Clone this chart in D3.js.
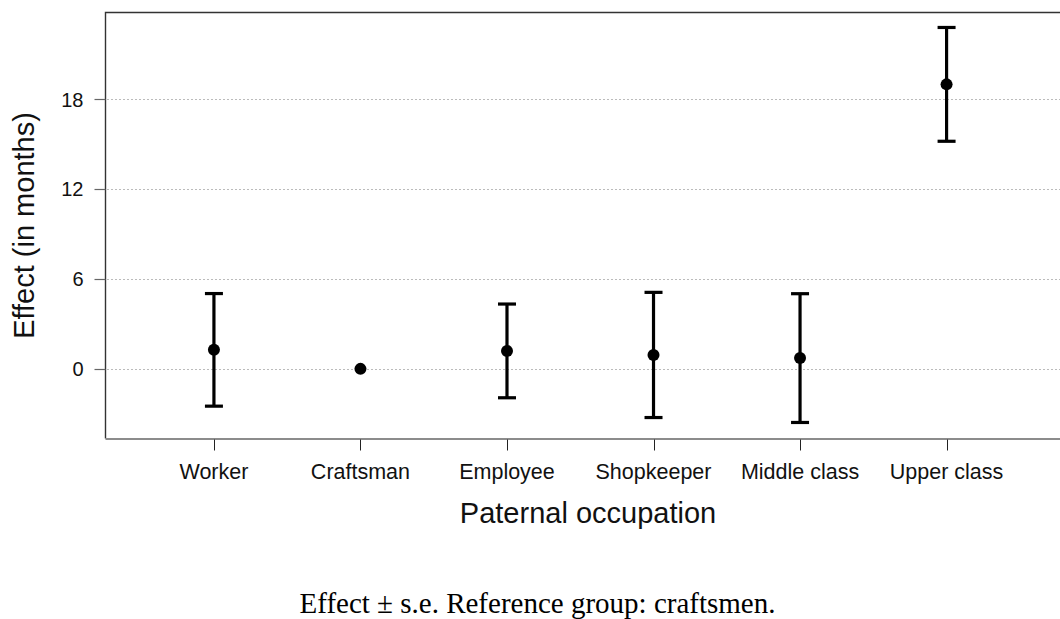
<!DOCTYPE html>
<html>
<head>
<meta charset="utf-8">
<script src="https://cdn.jsdelivr.net/npm/d3@7"></script>
<style>
  body { margin: 0; background: #fff; }
  svg { display: block; }
  .tick-label { font-family: "Liberation Sans", Arial, sans-serif; fill: #111; }
</style>
</head>
<body>
<div id="container"></div>
<script>
// data
const occupations = ["Worker", "Craftsman", "Employee", "Shopkeeper", "Middle class", "Upper class"];
const effects = [1.27, 0, 1.2, 0.93, 0.72, 19.0];
const stdErrors = [3.76, 0, 3.13, 4.18, 4.3, 3.8];
const yTicks = [0, 6, 12, 18];

const width = 1060;
const height = 619;
const plot = { left: 105.5, top: 12.5, right: 1062, bottom: 438.5 };

const svg = d3.select("#container")
  .append("svg")
  .attr("width", width)
  .attr("height", height);

const x = d3.scalePoint()
  .domain(occupations)
  .range([plot.left, 1055])
  .padding(0.74);

const y = d3.scaleLinear()
  .domain([-4.65, 23.8])
  .range([plot.bottom, plot.top]);

// dotted grid lines
svg.append("g")
  .selectAll("line")
  .data(yTicks)
  .join("line")
  .attr("x1", plot.left + 2)
  .attr("x2", plot.right)
  .attr("y1", d => Math.round(y(d)) + 0.5)
  .attr("y2", d => Math.round(y(d)) + 0.5)
  .attr("stroke", "#777")
  .attr("stroke-width", 1)
  .attr("stroke-dasharray", "1,3");

// frame: top and left
svg.append("path")
  .attr("d", `M${plot.left},${plot.bottom}V${plot.top}H${plot.right}`)
  .attr("fill", "none")
  .attr("stroke", "#333")
  .attr("stroke-width", 1.4);

// y axis ticks + labels
const yAxis = svg.append("g");
yAxis.selectAll("line")
  .data(yTicks)
  .join("line")
  .attr("x1", plot.left - 11)
  .attr("x2", plot.left)
  .attr("y1", d => Math.round(y(d)) + 0.5)
  .attr("y2", d => Math.round(y(d)) + 0.5)
  .attr("stroke", "#666")
  .attr("stroke-width", 1.2);
yAxis.selectAll("text")
  .data(yTicks)
  .join("text")
  .attr("class", "tick-label")
  .attr("x", plot.left - 22)
  .attr("y", d => y(d))
  .attr("dy", "0.36em")
  .attr("text-anchor", "end")
  .attr("font-size", 20)
  .text(d => d);

// x axis: gray base line, ticks, labels
svg.append("line")
  .attr("x1", plot.left)
  .attr("x2", plot.right)
  .attr("y1", plot.bottom + 0.5)
  .attr("y2", plot.bottom + 0.5)
  .attr("stroke", "#8c8c8c")
  .attr("stroke-width", 2);

const xAxis = svg.append("g");
xAxis.selectAll("line")
  .data(occupations)
  .join("line")
  .attr("x1", d => Math.round(x(d)) + 0.5)
  .attr("x2", d => Math.round(x(d)) + 0.5)
  .attr("y1", plot.bottom + 1)
  .attr("y2", plot.bottom + 12)
  .attr("stroke", "#222")
  .attr("stroke-width", 1);
xAxis.selectAll("text")
  .data(occupations)
  .join("text")
  .attr("class", "tick-label")
  .attr("x", d => x(d))
  .attr("y", 479)
  .attr("text-anchor", "middle")
  .attr("font-size", 21.5)
  .text(d => d);

// axis titles
svg.append("text")
  .attr("class", "tick-label")
  .attr("x", 588)
  .attr("y", 523)
  .attr("text-anchor", "middle")
  .attr("font-size", 29)
  .text("Paternal occupation");

svg.append("text")
  .attr("class", "tick-label")
  .attr("transform", `translate(34,${(plot.top + plot.bottom) / 2}) rotate(-90)`)
  .attr("text-anchor", "middle")
  .attr("font-size", 29)
  .text("Effect (in months)");

// error bars
const bars = svg.append("g");
occupations.forEach((occ, i) => {
  const cx = x(occ);
  const se = stdErrors[i];
  if (se > 0) {
    const lo = y(effects[i] - se);
    const hi = y(effects[i] + se);
    bars.append("line")
      .attr("x1", cx).attr("x2", cx)
      .attr("y1", lo).attr("y2", hi)
      .attr("stroke", "#000")
      .attr("stroke-width", 3.2);
    [lo, hi].forEach(yy => {
      bars.append("line")
        .attr("x1", cx - 9).attr("x2", cx + 9)
        .attr("y1", yy).attr("y2", yy)
        .attr("stroke", "#000")
        .attr("stroke-width", 3.2);
    });
  }
  bars.append("circle")
    .attr("cx", cx)
    .attr("cy", y(effects[i]))
    .attr("r", 6)
    .attr("fill", "#000");
});

// caption
svg.append("text")
  .attr("x", 537.5)
  .attr("y", 613)
  .attr("text-anchor", "middle")
  .attr("font-family", "'Liberation Serif', 'Times New Roman', serif")
  .attr("font-size", 29)
  .attr("fill", "#000")
  .text("Effect \u00b1 s.e. Reference group: craftsmen.");
</script>
</body>
</html>
